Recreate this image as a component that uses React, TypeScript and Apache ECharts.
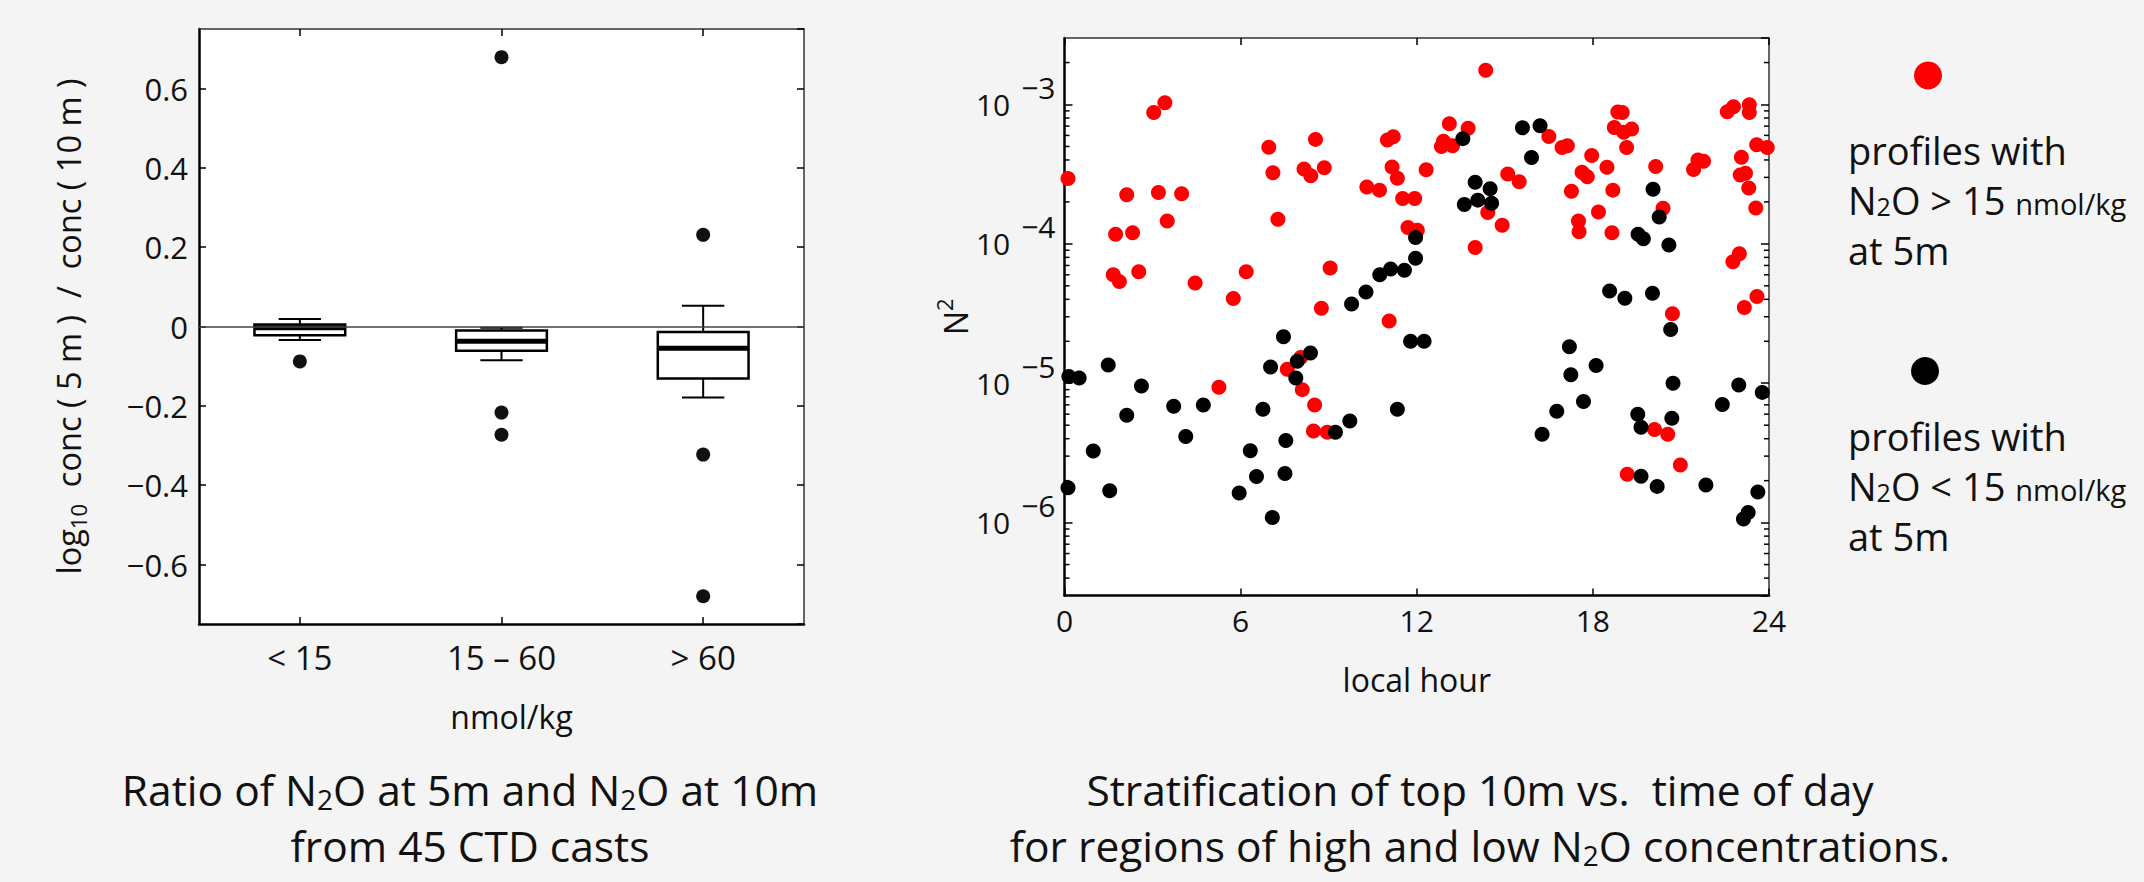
import React, { useEffect, useRef } from 'react';
import * as echarts from 'echarts';

// ---------- Left panel: box plot of log10 conc(5 m)/conc(10 m) ----------
const boxCategories = ['< 15', '15 – 60', '> 60'];
const boxLowerWhisker = [-0.034, -0.085, -0.179];
const boxQ1 = [-0.022, -0.061, -0.131];
const boxMedian = [-0.003, -0.037, -0.055];
const boxQ3 = [0.005, -0.01, -0.014];
const boxUpperWhisker = [0.019, -0.003, 0.052];
const boxOutliers: [string, number][] = [
  ['< 15', -0.088],
  ['15 – 60', 0.679],
  ['15 – 60', -0.217],
  ['15 – 60', -0.273],
  ['> 60', 0.231],
  ['> 60', -0.323],
  ['> 60', -0.68],
];
const ratioMin = -0.75;
const ratioMax = 0.75;

// ---------- Right panel: N^2 vs local hour ----------
const hourMin = 0;
const hourMax = 24;
const hourInterval = 6;
const n2Min = 3e-7;
const n2Max = 3e-3;
const n2MinorTicks = [
  4e-7, 5e-7, 6e-7, 7e-7, 8e-7, 9e-7,
  2e-6, 3e-6, 4e-6, 5e-6, 6e-6, 7e-6, 8e-6, 9e-6,
  2e-5, 3e-5, 4e-5, 5e-5, 6e-5, 7e-5, 8e-5, 9e-5,
  2e-4, 3e-4, 4e-4, 5e-4, 6e-4, 7e-4, 8e-4, 9e-4,
  2e-3,
];

// profiles with N2O > 15 nmol/kg at 5 m  [local hour, N^2]
const highN2O: [number, number][] = [
  [0.12, 2.94e-4], [3.04, 8.77e-4], [3.42, 1.03e-3], [2.12, 2.25e-4], [3.2, 2.34e-4],
  [3.99, 2.29e-4], [3.5, 1.46e-4], [1.74, 1.17e-4], [2.32, 1.2e-4], [1.66, 6.0e-5],
  [1.87, 5.36e-5], [2.53, 6.3e-5], [4.45, 5.24e-5], [5.75, 4.06e-5], [5.26, 9.37e-6],
  [6.19, 6.32e-5], [6.96, 4.93e-4], [8.55, 5.62e-4], [7.1, 3.24e-4], [8.16, 3.44e-4],
  [8.39, 3.08e-4], [8.85, 3.52e-4], [7.27, 1.5e-4], [9.05, 6.7e-5], [8.75, 3.45e-5],
  [10.3, 2.56e-4], [10.73, 2.43e-4], [11.0, 5.56e-4], [11.2, 5.86e-4], [11.16, 3.56e-4],
  [11.34, 2.96e-4], [11.52, 2.12e-4], [11.93, 2.12e-4], [11.7, 1.31e-4], [11.06, 2.8e-5],
  [8.05, 1.53e-5], [7.59, 1.26e-5], [8.1, 9.0e-6], [8.52, 6.98e-6], [8.48, 4.54e-6],
  [8.95, 4.45e-6], [14.35, 1.76e-3], [13.11, 7.28e-4], [13.75, 6.76e-4], [12.91, 5.46e-4],
  [12.84, 5.0e-4], [13.22, 5.06e-4], [12.32, 3.4e-4], [12.02, 1.25e-4], [13.99, 9.4e-5],
  [14.42, 1.68e-4], [14.91, 1.36e-4], [15.1, 3.17e-4], [15.49, 2.79e-4], [16.5, 5.89e-4],
  [16.95, 4.91e-4], [17.13, 5.06e-4], [17.96, 4.3e-4], [17.63, 3.27e-4], [17.81, 3.03e-4],
  [17.27, 2.39e-4], [17.51, 1.46e-4], [17.53, 1.22e-4], [18.85, 8.85e-4], [19.0, 8.75e-4],
  [18.73, 6.84e-4], [19.05, 6.33e-4], [19.32, 6.67e-4], [19.15, 4.91e-4], [18.48, 3.55e-4],
  [18.68, 2.43e-4], [18.19, 1.69e-4], [18.65, 1.2e-4], [20.14, 3.59e-4], [20.39, 1.8e-4],
  [20.71, 3.15e-5], [21.43, 3.42e-4], [21.58, 3.99e-4], [21.77, 3.92e-4], [22.58, 8.87e-4],
  [22.79, 9.64e-4], [23.33, 9.97e-4], [23.33, 8.77e-4], [23.58, 5.15e-4], [23.94, 4.91e-4],
  [23.06, 4.19e-4], [23.02, 3.12e-4], [23.2, 3.21e-4], [23.31, 2.52e-4], [23.55, 1.81e-4],
  [22.77, 7.45e-5], [22.99, 8.49e-5], [23.16, 3.5e-5], [23.59, 4.2e-5], [20.1, 4.65e-6],
  [20.55, 4.3e-6], [20.98, 2.59e-6], [19.17, 2.22e-6],
];

// profiles with N2O < 15 nmol/kg at 5 m  [local hour, N^2]
const lowN2O: [number, number][] = [
  [0.15, 1.12e-5], [0.5, 1.09e-5], [1.49, 1.35e-5], [2.62, 9.55e-6], [2.12, 5.89e-6],
  [3.72, 6.83e-6], [4.73, 6.98e-6], [4.13, 4.15e-6], [0.98, 3.26e-6], [0.12, 1.78e-6],
  [1.54, 1.69e-6], [7.46, 2.16e-5], [7.02, 1.31e-5], [7.93, 1.44e-5], [8.38, 1.65e-5],
  [7.88, 1.09e-5], [6.76, 6.5e-6], [7.54, 3.89e-6], [6.33, 3.28e-6], [6.54, 2.14e-6],
  [7.51, 2.25e-6], [5.95, 1.63e-6], [7.08, 1.09e-6], [9.23, 4.45e-6], [9.72, 5.35e-6],
  [9.78, 3.71e-5], [10.27, 4.52e-5], [10.74, 6.0e-5], [11.11, 6.59e-5], [11.58, 6.47e-5],
  [11.96, 1.11e-4], [11.96, 7.9e-5], [11.79, 2.0e-5], [11.34, 6.5e-6], [13.57, 5.69e-4],
  [15.6, 6.8e-4], [16.2, 7.04e-4], [15.91, 4.16e-4], [13.99, 2.77e-4], [14.5, 2.49e-4],
  [13.62, 1.92e-4], [14.08, 2.06e-4], [14.55, 1.96e-4], [12.25, 2.0e-5], [17.2, 1.83e-5],
  [17.25, 1.15e-5], [17.68, 7.41e-6], [16.77, 6.3e-6], [16.27, 4.3e-6], [20.05, 2.47e-4],
  [20.26, 1.56e-4], [19.54, 1.17e-4], [19.72, 1.09e-4], [20.59, 9.8e-5], [18.57, 4.59e-5],
  [19.09, 4.08e-5], [20.03, 4.43e-5], [20.65, 2.43e-5], [18.11, 1.34e-5], [20.73, 1.0e-5],
  [19.53, 6.0e-6], [19.64, 4.84e-6], [20.69, 5.61e-6], [19.64, 2.15e-6], [20.19, 1.82e-6],
  [21.85, 1.86e-6], [22.41, 7.03e-6], [22.97, 9.73e-6], [23.77, 8.6e-6], [23.62, 1.66e-6],
  [23.13, 1.06e-6], [23.29, 1.18e-6],
];

const HIGH_COLOR = '#ff0000';
const LOW_COLOR = '#000000';
const FONT = '"Open Sans", "Noto Sans", sans-serif';
const TEXT = '#111111';
const BG = '#f4f4f4';

const boldLine = { show: true, onZero: false, lineStyle: { color: '#000', width: 2.5 } };
const thinLine = { show: true, onZero: false, lineStyle: { color: '#333', width: 1.5 } };
const inTick = (len: number, align = false) => ({
  show: true,
  inside: true,
  length: len,
  alignWithLabel: align,
  lineStyle: { color: '#000', width: 1.5 },
});

function buildOption(): any {
  const boxData = boxCategories.map((_, i) => [
    i, boxLowerWhisker[i], boxQ1[i], boxMedian[i], boxQ3[i], boxUpperWhisker[i],
  ]);

  const renderBox = (params: any, api: any) => {
    const ci = api.value(0);
    const band = api.size([1, 0])[0];
    const cx = api.coord([ci, 0])[0];
    const yLo = api.coord([ci, api.value(1)])[1];
    const yQ1 = api.coord([ci, api.value(2)])[1];
    const yMed = api.coord([ci, api.value(3)])[1];
    const yQ3 = api.coord([ci, api.value(4)])[1];
    const yHi = api.coord([ci, api.value(5)])[1];
    const bw = band * 0.45;
    const cw = band * 0.21;
    const ln = { stroke: '#000', lineWidth: 2 };
    return {
      type: 'group',
      children: [
        { type: 'line', shape: { x1: cx, y1: yQ3, x2: cx, y2: yHi }, style: ln },
        { type: 'line', shape: { x1: cx, y1: yQ1, x2: cx, y2: yLo }, style: ln },
        { type: 'line', shape: { x1: cx - cw / 2, y1: yHi, x2: cx + cw / 2, y2: yHi }, style: ln },
        { type: 'line', shape: { x1: cx - cw / 2, y1: yLo, x2: cx + cw / 2, y2: yLo }, style: ln },
        {
          type: 'rect',
          shape: { x: cx - bw / 2, y: yQ3, width: bw, height: yQ1 - yQ3 },
          style: { fill: '#fff', stroke: '#000', lineWidth: 2.5 },
        },
        {
          type: 'line',
          shape: { x1: cx - bw / 2, y1: yMed, x2: cx + bw / 2, y2: yMed },
          style: { stroke: '#000', lineWidth: 5 },
        },
      ],
    };
  };

  const renderMinorTicks = (params: any, api: any) => {
    const v = api.value(1);
    const pL = api.coord([hourMin, v]);
    const pR = api.coord([hourMax, v]);
    const st = { stroke: '#000', lineWidth: 1.5 };
    return {
      type: 'group',
      children: [
        { type: 'line', shape: { x1: pL[0], y1: pL[1], x2: pL[0] + 5, y2: pL[1] }, style: st },
        { type: 'line', shape: { x1: pR[0], y1: pR[1], x2: pR[0] - 5, y2: pR[1] }, style: st },
      ],
    };
  };

  const ratioFormatter = (v: number) => {
    const r = Math.round(v * 5);
    if (Math.abs(v * 5 - r) > 1e-6) return '';
    if (r === 0) return '0';
    return (v < 0 ? '−' : '') + Math.abs(v).toFixed(1);
  };

  const logFormatter = (v: number) => {
    const l = Math.log10(v);
    const e = Math.round(l);
    if (Math.abs(l - e) > 1e-6) return '';
    return '{b|10}{e|' + (e < 0 ? '−' : '') + Math.abs(e) + '}';
  };

  const captionRich = {
    a: { fontSize: 42.5, fontFamily: FONT, lineHeight: 56, fill: TEXT },
    s: { fontSize: 28, fontFamily: FONT, height: 36, lineHeight: 56, verticalAlign: 'bottom', fill: TEXT },
  };
  const legendRich = {
    a: { fontSize: 38, fontFamily: FONT, lineHeight: 50, fill: TEXT },
    s: { fontSize: 25, fontFamily: FONT, height: 38, lineHeight: 50, verticalAlign: 'bottom', fill: TEXT },
    m: { fontSize: 29, fontFamily: FONT, height: 44, lineHeight: 50, verticalAlign: 'bottom', fill: TEXT },
  };

  return {
    animation: false,
    backgroundColor: BG,
    textStyle: { fontFamily: FONT },
    grid: [
      { left: 199, top: 29, width: 605, height: 595, show: true, backgroundColor: '#fff', borderWidth: 0, containLabel: false, outerBoundsMode: 'none' },
      { left: 1064.5, top: 38, width: 704.5, height: 557.5, show: true, backgroundColor: '#fff', borderWidth: 0, containLabel: false, outerBoundsMode: 'none' },
    ],
    xAxis: [
      {
        gridIndex: 0, type: 'category', data: boxCategories, position: 'bottom', boundaryGap: true,
        axisLine: boldLine, axisTick: inTick(7, true), splitLine: { show: false },
        axisLabel: { show: true, margin: 13, fontSize: 33, lineHeight: 40, fontFamily: FONT, color: TEXT, interval: 0 },
        name: 'nmol/kg', nameLocation: 'middle', nameGap: 72,
        nameTextStyle: { fontSize: 32, lineHeight: 40, fontFamily: FONT, color: TEXT, padding: [0, 0, 0, 20] },
      },
      {
        gridIndex: 0, type: 'category', data: boxCategories, position: 'top', boundaryGap: true,
        axisLine: thinLine, axisTick: inTick(7, true), axisLabel: { show: false }, splitLine: { show: false },
      },
      {
        gridIndex: 1, type: 'value', min: hourMin, max: hourMax, interval: hourInterval, position: 'bottom',
        axisLine: boldLine, axisTick: inTick(7), splitLine: { show: false },
        axisLabel: { show: true, margin: 10, fontSize: 30, fontFamily: FONT, color: TEXT },
        name: 'local hour', nameLocation: 'middle', nameGap: 64,
        nameTextStyle: { fontSize: 32, lineHeight: 40, fontFamily: FONT, color: TEXT },
      },
      {
        gridIndex: 1, type: 'value', min: hourMin, max: hourMax, interval: hourInterval, position: 'top',
        axisLine: thinLine, axisTick: inTick(7), axisLabel: { show: false }, splitLine: { show: false },
      },
    ],
    yAxis: [
      {
        gridIndex: 0, type: 'value', min: ratioMin, max: ratioMax, splitNumber: 7, position: 'left',
        axisLine: boldLine, axisTick: inTick(7), splitLine: { show: false },
        axisLabel: { show: true, margin: 11, fontSize: 31, fontFamily: FONT, color: TEXT, formatter: ratioFormatter, showMinLabel: false, showMaxLabel: false },
        name: '{a|log}{s|10}{a|  conc ( 5 m )  /  conc ( 10 m )}',
        nameLocation: 'middle', nameGap: 110, nameRotate: 90,
        nameTextStyle: {
          rich: {
            a: { fontSize: 32.5, fontFamily: FONT, lineHeight: 42, color: TEXT },
            s: { fontSize: 22, fontFamily: FONT, height: 22, lineHeight: 42, verticalAlign: 'bottom', color: TEXT },
          },
        },
      },
      {
        gridIndex: 0, type: 'value', min: ratioMin, max: ratioMax, splitNumber: 7, position: 'right',
        axisLine: thinLine, axisTick: inTick(7), axisLabel: { show: false }, splitLine: { show: false },
      },
      {
        gridIndex: 1, type: 'log', logBase: 10, min: n2Min, max: n2Max, position: 'left',
        axisLine: boldLine, axisTick: inTick(8), splitLine: { show: false }, minorTick: { show: false },
        axisLabel: {
          show: true, margin: 9, formatter: logFormatter, showMinLabel: false, showMaxLabel: false,
          rich: {
            b: { fontSize: 30, fontFamily: FONT, lineHeight: 50, color: TEXT },
            e: { fontSize: 30, fontFamily: FONT, height: 16, lineHeight: 50, verticalAlign: 'top', padding: [0, 0, 0, 11], color: TEXT },
          },
        },
        name: '{a|N}{e|2}', nameLocation: 'middle', nameGap: 80, nameRotate: 90,
        nameTextStyle: {
          rich: {
            a: { fontSize: 32, fontFamily: FONT, lineHeight: 44, color: TEXT },
            e: { fontSize: 22, fontFamily: FONT, height: 20, lineHeight: 44, verticalAlign: 'top', color: TEXT },
          },
        },
      },
      {
        gridIndex: 1, type: 'log', logBase: 10, min: n2Min, max: n2Max, position: 'right',
        axisLine: thinLine, axisTick: inTick(8), axisLabel: { show: false }, splitLine: { show: false },
      },
    ],
    series: [
      {
        type: 'scatter', name: 'outliers', xAxisIndex: 0, yAxisIndex: 0, data: boxOutliers,
        symbol: 'circle', symbolSize: 14, itemStyle: { color: '#111', opacity: 1 }, z: 2,
        emphasis: { disabled: true }, silent: true,
        markLine: {
          silent: true, symbol: ['none', 'none'], label: { show: false },
          lineStyle: { color: '#444', width: 1.5, type: 'solid' },
          data: [{ yAxis: 0 }],
        },
      },
      {
        type: 'custom', name: 'boxes', xAxisIndex: 0, yAxisIndex: 0, data: boxData,
        encode: { x: 0, y: [1, 2, 3, 4, 5] }, renderItem: renderBox, z: 3, silent: true,
      },
      {
        type: 'custom', name: 'minorTicks', xAxisIndex: 2, yAxisIndex: 2,
        data: n2MinorTicks.map((v) => [hourMin, v]), encode: { x: 0, y: 1 },
        renderItem: renderMinorTicks, z: 1, silent: true,
      },
      {
        type: 'scatter', name: 'N2O > 15 nmol/kg', xAxisIndex: 2, yAxisIndex: 2, data: highN2O,
        symbol: 'circle', symbolSize: 15, itemStyle: { color: HIGH_COLOR, opacity: 1 }, z: 3,
        emphasis: { disabled: true }, silent: true,
      },
      {
        type: 'scatter', name: 'N2O < 15 nmol/kg', xAxisIndex: 2, yAxisIndex: 2, data: lowN2O,
        symbol: 'circle', symbolSize: 15, itemStyle: { color: LOW_COLOR, opacity: 1 }, z: 4,
        emphasis: { disabled: true }, silent: true,
      },
    ],
    graphic: [
      { type: 'circle', shape: { cx: 1928, cy: 75.5, r: 14 }, style: { fill: HIGH_COLOR }, silent: true },
      {
        type: 'text', x: 1848, y: 125, silent: true,
        style: {
          text: '{a|profiles with}\n{a|N}{s|2}{a|O > 15 }{m|nmol/kg}\n{a|at 5m}',
          rich: legendRich, align: 'left', verticalAlign: 'top',
        },
      },
      { type: 'circle', shape: { cx: 1925, cy: 371, r: 14 }, style: { fill: LOW_COLOR }, silent: true },
      {
        type: 'text', x: 1848, y: 411, silent: true,
        style: {
          text: '{a|profiles with}\n{a|N}{s|2}{a|O < 15 }{m|nmol/kg}\n{a|at 5m}',
          rich: legendRich, align: 'left', verticalAlign: 'top',
        },
      },
      {
        type: 'text', x: 470, y: 761, silent: true,
        style: {
          text: '{a|Ratio of N}{s|2}{a|O at 5m and N}{s|2}{a|O at 10m}\n{a|from 45 CTD casts}',
          rich: captionRich, align: 'center', verticalAlign: 'top',
        },
      },
      {
        type: 'text', x: 1480, y: 761, silent: true,
        style: {
          text: '{a|Stratification of top 10m vs.  time of day}\n{a|for regions of high and low N}{s|2}{a|O concentrations.}',
          rich: captionRich, align: 'center', verticalAlign: 'top',
        },
      },
    ],
  };
}

export default function App() {
  const ref = useRef<HTMLDivElement>(null);
  useEffect(() => {
    if (!ref.current) return;
    const chart = echarts.init(ref.current, null, { renderer: 'svg', width: 2144, height: 882 });
    chart.setOption(buildOption());
    return () => chart.dispose();
  }, []);
  return (
    <div
      ref={ref}
      style={{ position: 'absolute', left: 0, top: 0, width: 2144, height: 882, background: BG }}
    />
  );
}
